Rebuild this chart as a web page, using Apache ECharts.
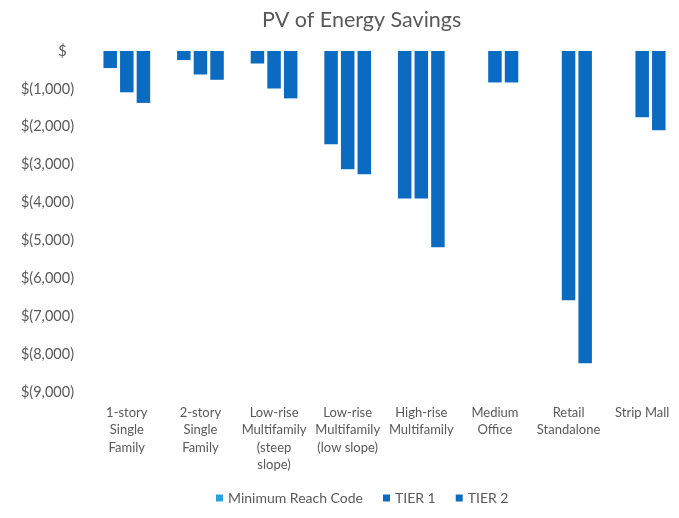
<!DOCTYPE html>
<html>
<head>
<meta charset="utf-8">
<script src="https://cdn.jsdelivr.net/npm/echarts@6/dist/echarts.min.js"></script>
<style>html,body{margin:0;padding:0;background:#fff}#c{width:679px;height:518px}</style>
</head>
<body>
<div id="c"></div>
<script>
const categories = [
  "1-story\nSingle\nFamily",
  "2-story\nSingle\nFamily",
  "Low-rise\nMultifamily\n(steep\nslope)",
  "Low-rise\nMultifamily\n(low slope)",
  "High-rise\nMultifamily",
  "Medium\nOffice",
  "Retail\nStandalone",
  "Strip Mall"
];
const minimumReachCode = [-450, -240, -330, -2460, -3890, null, null, null];
const tier1 = [-1090, -620, -990, -3120, -3890, -830, -6580, -1750];
const tier2 = [-1370, -760, -1250, -3250, -5180, -830, -8240, -2090];
const seriesNames = ["Minimum Reach Code", "TIER 1", "TIER 2"];
const yTicks = { min: -9000, max: 0, step: 1000 };

const FONT = "Lato";
const GREY = "#595959";
const BAR = "#0B6BC0";
const LIGHT = "#2AA2E2";

const chart = echarts.init(document.getElementById('c'), null, { renderer: 'canvas' });
const mkSeries = (name, data) => ({
  name, type: 'bar', data,
  barWidth: 13.5, barGap: '23%',
  itemStyle: { color: BAR },
  animation: false
});
chart.setOption({
  animation: false,
  backgroundColor: '#fff',
  title: {
    text: 'PV of Energy Savings',
    left: 257, top: 4,
    textStyle: { fontFamily: FONT, fontSize: 21.5, fontWeight: 'normal', color: GREY }
  },
  legend: {
    bottom: 8, left: 211,
    icon: 'rect', itemWidth: 7, itemHeight: 7, itemGap: 20,
    textStyle: { fontFamily: FONT, fontSize: 14, color: GREY },
    data: [
      { name: seriesNames[0], itemStyle: { color: LIGHT } },
      { name: seriesNames[1], itemStyle: { color: BAR } },
      { name: seriesNames[2], itemStyle: { color: BAR } }
    ]
  },
  grid: { left: 90, right: -8, top: 51, bottom: 126, containLabel: false },
  xAxis: {
    type: 'category', data: categories, position: 'bottom',
    axisLine: { show: false }, axisTick: { show: false },
    axisLabel: { interval: 0, margin: 12, fontFamily: FONT, fontSize: 13, lineHeight: 17.5, color: GREY }
  },
  yAxis: {
    type: 'value', min: yTicks.min, max: yTicks.max, interval: yTicks.step,
    splitLine: { show: false }, axisLine: { show: false }, axisTick: { show: false },
    axisLabel: {
      margin: 16, fontFamily: FONT, fontSize: 14.5, color: GREY,
      formatter: v => v === 0 ? '$  ' : '$(' + Math.abs(v).toLocaleString('en-US') + ')'
    }
  },
  series: [
    mkSeries(seriesNames[0], minimumReachCode),
    mkSeries(seriesNames[1], tier1),
    mkSeries(seriesNames[2], tier2)
  ]
});
</script>
</body>
</html>
